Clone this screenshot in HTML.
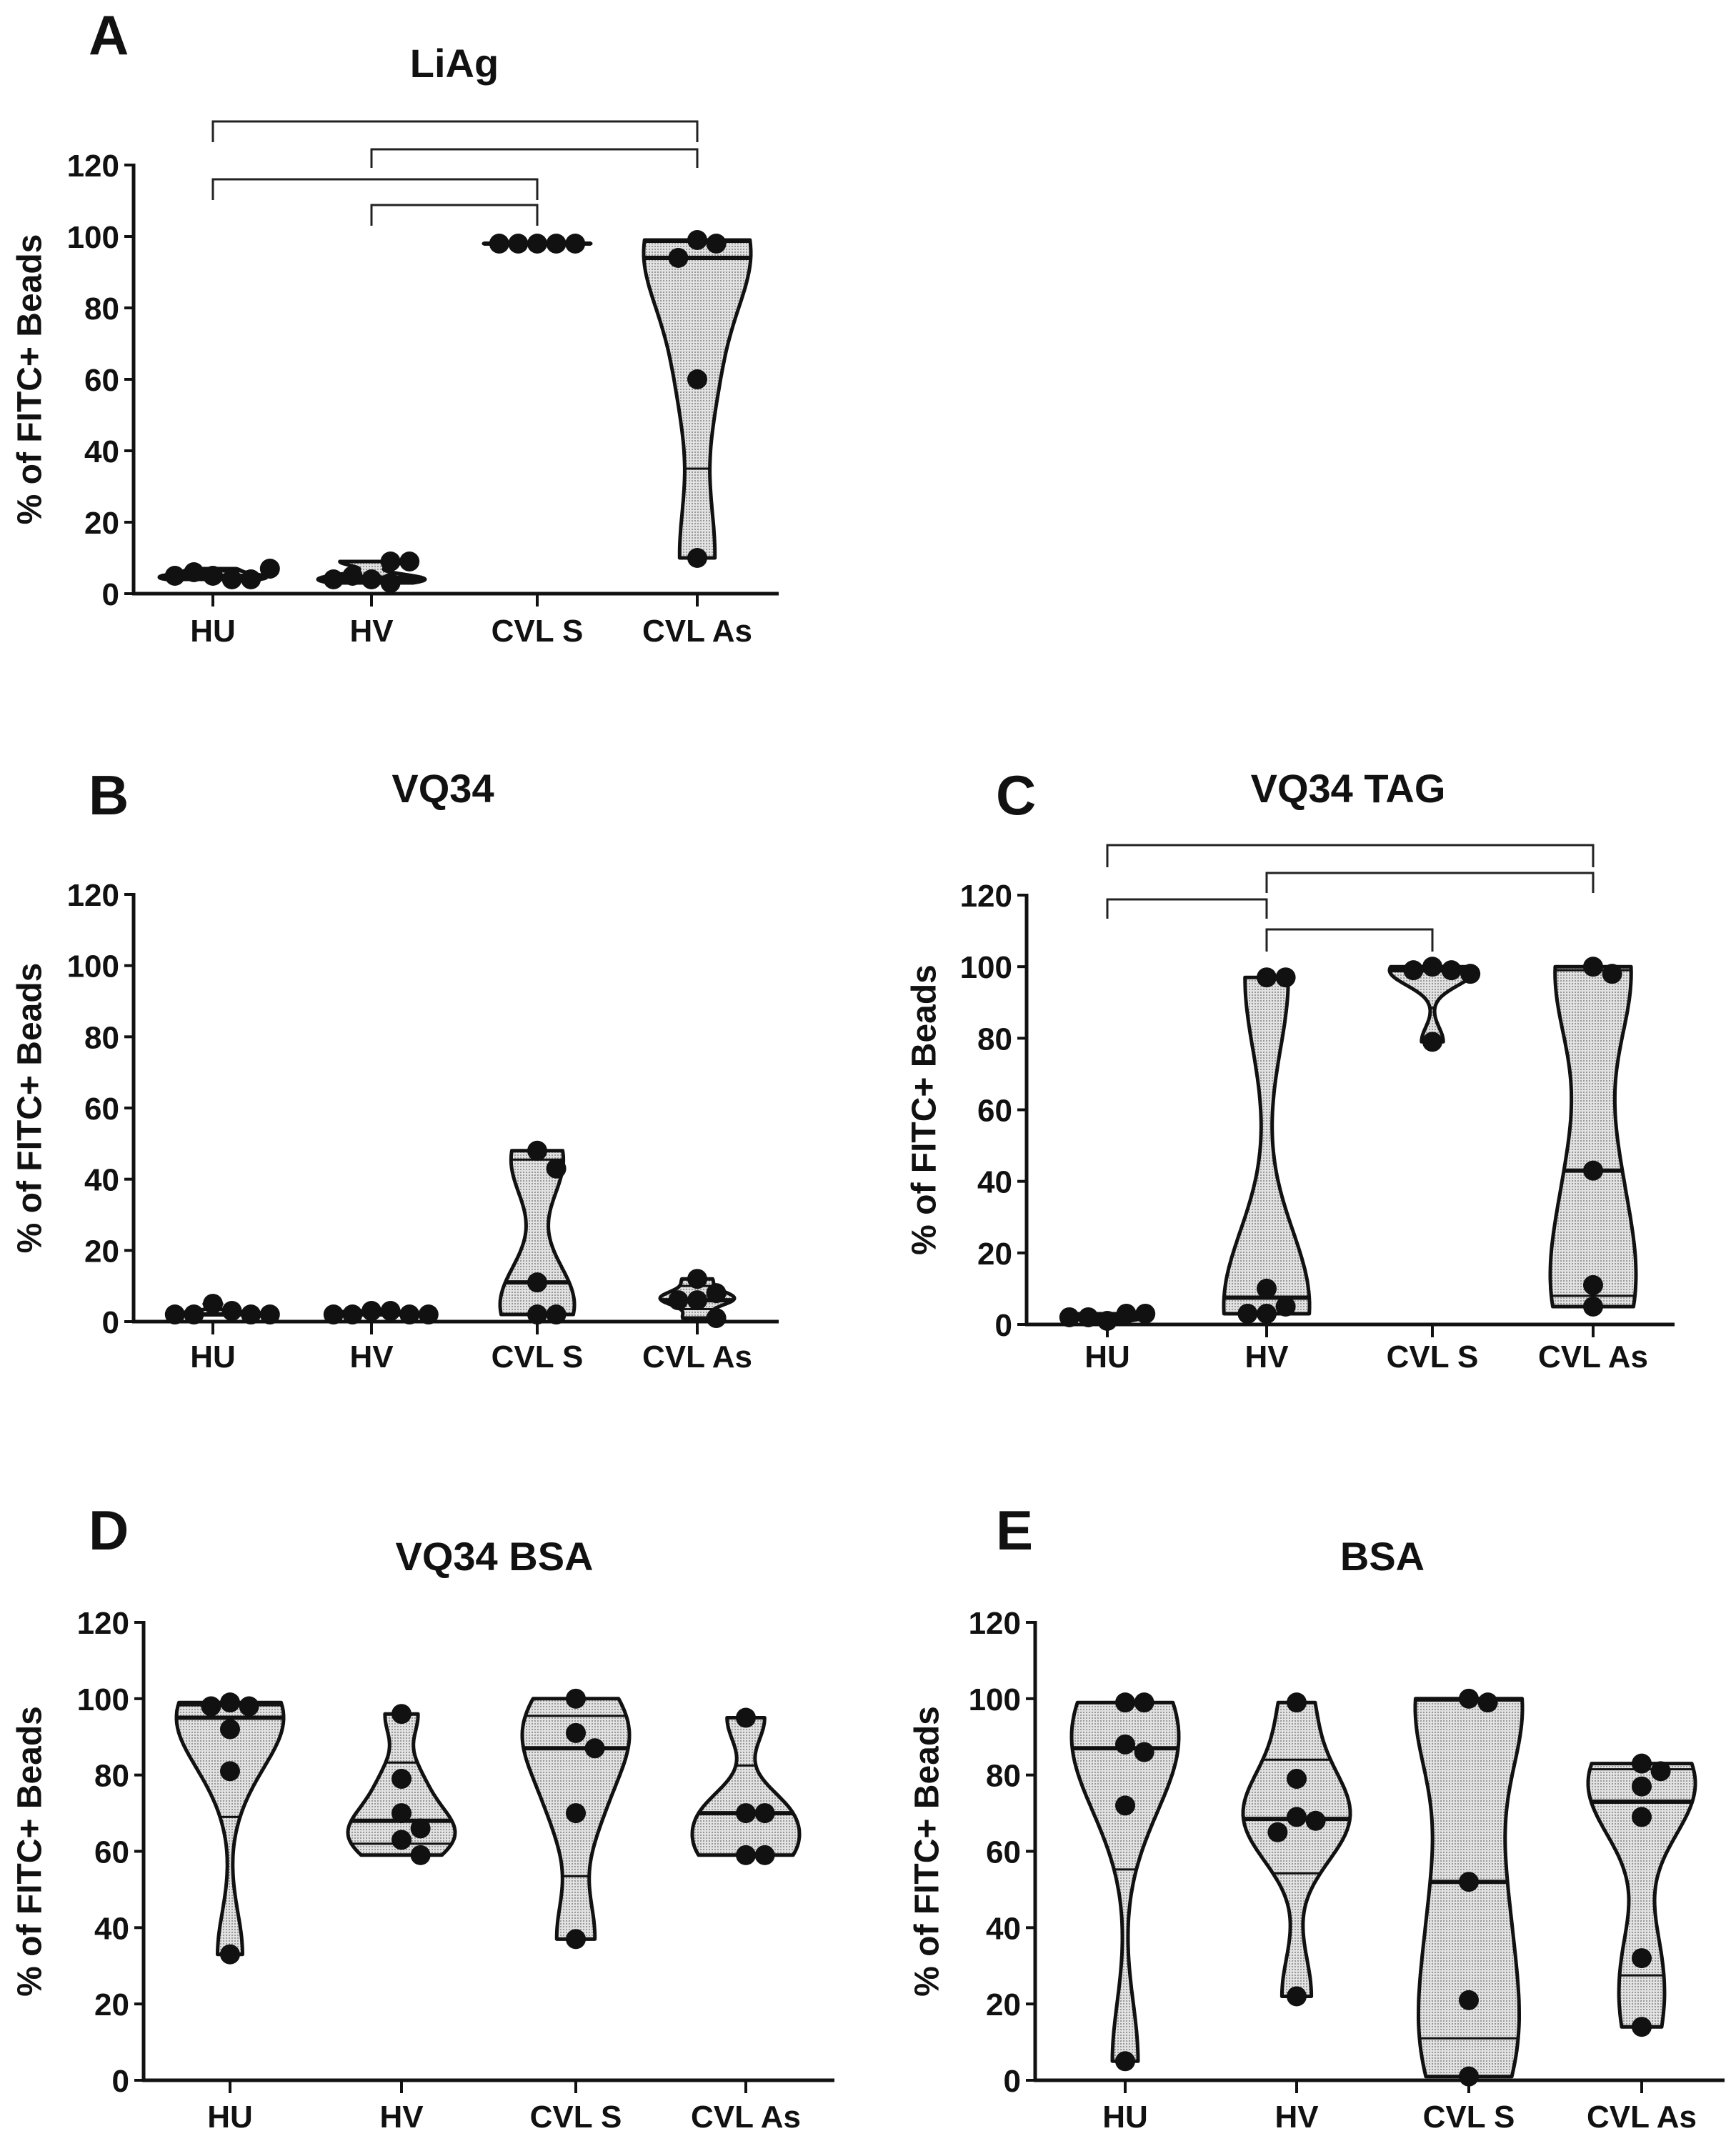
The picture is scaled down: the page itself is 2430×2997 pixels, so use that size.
<!DOCTYPE html>
<html><head><meta charset="utf-8"><style>
html,body{margin:0;padding:0;background:#fff}
svg{display:block}
text{font-family:"Liberation Sans",Arial,sans-serif;font-weight:bold;fill:#111}
</style></head><body>
<svg id="fig" width="2430" height="2997" viewBox="0 0 2430 2997" xmlns="http://www.w3.org/2000/svg">
<defs>
<pattern id="dots" width="4" height="4" patternUnits="userSpaceOnUse"><rect width="4" height="4" fill="#e2e2e2"/><rect width="2" height="2" fill="#9a9a9a"/></pattern>
</defs>
</svg>
<script>
// ---- data ----
const categories = ["HU","HV","CVL S","CVL As"];
const yTicks = [0,20,40,60,80,100,120];
const liagHU = [5,4,6,4,5,7];
const liagHV = [4,3,5,9,9,4];
const liagCVLS = [98,98,98,98,98];
const liagCVLAs = [99,98,94,60,10];
const vq34HU = [5,3,2,2,2,2];
const vq34HV = [3,3,2,2,2,2];
const vq34CVLS = [48,43,11,2,2];
const vq34CVLAs = [12,8,6,6,1];
const tagHU = [1,3,2,3,2];
const tagHV = [97,97,10,5,3,3];
const tagCVLS = [100,99,99,98,79];
const tagCVLAs = [100,98,43,11,5];
const bsaVqHU = [99,98,98,92,81,33];
const bsaVqHV = [96,79,70,66,63,59];
const bsaVqCVLS = [100,91,87,70,37];
const bsaVqCVLAs = [95,70,70,59,59];
const bsaHU = [99,99,88,86,72,5];
const bsaHV = [99,79,69,68,65,22];
const bsaCVLS = [100,99,52,21,1];
const bsaCVLAs = [83,81,77,69,32,14];
// significance brackets: [fromCategoryIndex, toCategoryIndex]
const bracketsA = [[0,3],[1,3],[0,2],[1,2]];
const bracketsC = [[0,3],[1,3],[0,1],[1,2]];

const NS="http://www.w3.org/2000/svg";
const svg=document.getElementById('fig');
function el(tag,attrs,parent){const e=document.createElementNS(NS,tag);for(const k in attrs)e.setAttribute(k,attrs[k]);(parent||svg).appendChild(e);return e;}

function quant(s,p){const n=s.length;const pos=p*(n+1)-1;if(pos<=0)return s[0];if(pos>=n-1)return s[n-1];const i=Math.floor(pos);return s[i]+(s[i+1]-s[i])*(pos-i);}

function drawPanel(P){
  const g=el('g',{});
  
  
  const yS=v=>P.y0-(v/120)*(P.y0-P.y120);
  const xS=i=>P.cx[i];
  const L=el('text',{x:P.letterX,y:P.letterY,'font-size':78},g);L.textContent=P.letter;
  
  const T=el('text',{x:P.titleX,y:P.titleY,'font-size':56,'text-anchor':'middle'},g);T.textContent=P.title;
  
  const yc=(P.y0+P.y120)/2;
  const YT=el('text',{x:P.ytX,y:yc,'font-size':48,'text-anchor':'middle',transform:`rotate(-90 ${P.ytX} ${yc})`,'dominant-baseline':'middle'},g);
  YT.textContent='% of FITC+ Beads';
  
  P.series.forEach((data,i)=>{
    const s=[...data].sort((a,b)=>a-b);const n=s.length;
    const mn=s[0],mx=s[n-1];const cx=xS(i);
    const vg=el('g',{},g);
    
    
    const mean=s.reduce((a,b)=>a+b,0)/n;
    const sd=Math.sqrt(s.reduce((a,b)=>a+(b-mean)**2,0)/Math.max(1,n-1));
    const range=mx-mn;
    let bw=Math.max(0.9*sd*Math.pow(n,-0.2)*0.7, range*0.08, 0.6);
    const steps=60;const pts=[];let maxd=0;
    for(let k=0;k<=steps;k++){const v=mn+range*k/steps;let d=0;s.forEach(x=>{d+=Math.exp(-0.5*((v-x)/bw)**2);});pts.push([v,d]);if(d>maxd)maxd=d;}
    const hw=P.maxHalf;
    const right=pts.map(([v,d])=>[cx+d/maxd*hw,yS(v)]);
    const left=pts.slice().reverse().map(([v,d])=>[cx-d/maxd*hw,yS(v)]);
    const all=right.concat(left);
    el('path',{d:'M'+all.map(p=>p[0].toFixed(1)+','+p[1].toFixed(1)).join('L')+'Z',fill:'url(#dots)',stroke:'#111','stroke-width':5,'stroke-linejoin':'round'},vg);
    const wAt=v=>{let d=0;s.forEach(x=>{d+=Math.exp(-0.5*((v-x)/bw)**2);});return d/maxd*hw;};
    [[quant(s,0.5),6],[quant(s,0.25),3],[quant(s,0.75),3]].forEach(([q,sw])=>{
      const w=wAt(q);el('line',{x1:cx-w,x2:cx+w,y1:yS(q),y2:yS(q),stroke:'#111','stroke-width':sw},vg);
    });
    const r=14;const placed=[];
    data.forEach(v=>{
      const y=yS(v);let off=0;const cand=[0];
      for(let k=1;k<12;k++){cand.push(k*2*r*0.95,-k*2*r*0.95);}
      for(const c of cand){if(placed.every(p=>Math.hypot(p[0]-c,p[1]-y)>=2*r*0.95)){off=c;break;}}
      placed.push([off,y]);
      const c=el('circle',{cx:cx+off,cy:y,r:r,fill:'#111'},vg);
      
    });
  });
  const ax=el('g',{},g);
  el('line',{x1:P.ax,x2:P.ax,y1:P.y120-2,y2:P.y0+2,stroke:'#111','stroke-width':5},ax);
  el('line',{x1:P.ax-2,x2:P.axEnd,y1:P.y0,y2:P.y0,stroke:'#111','stroke-width':5},ax);
  yTicks.forEach(t=>{
    el('line',{x1:P.ax-13,x2:P.ax,y1:yS(t),y2:yS(t),stroke:'#111','stroke-width':4},ax);
    const tx=el('text',{x:P.ax-20,y:yS(t)+16,'font-size':44,'text-anchor':'end'},ax);tx.textContent=t;
    
  });
  categories.forEach((c,i)=>{
    el('line',{x1:xS(i),x2:xS(i),y1:P.y0,y2:P.y0+18,stroke:'#111','stroke-width':4},ax);
    const tx=el('text',{x:xS(i),y:P.catY,'font-size':44,'text-anchor':'middle'},ax);tx.textContent=c;
    
  });
  (P.brackets||[]).forEach((b,k)=>{
    const [top,bot]=P.bracketY[k];
    const bg=el('path',{d:`M${xS(b[0])},${bot}V${top}H${xS(b[1])}V${bot}`,fill:'none',stroke:'#222','stroke-width':3},g);
    
  });
}

drawPanel({name:'panel-a-liag',letter:'A',title:'LiAg',letterX:124,letterY:76,titleX:636,titleY:108,ytX:45,
  ax:187,axEnd:1090,y0:831,y120:231,cx:[298,520,752,976],catY:898,maxHalf:75,
  series:[liagHU,liagHV,liagCVLS,liagCVLAs],brackets:bracketsA,bracketY:[[170,199],[209,235],[251,280],[287,316]]});
drawPanel({name:'panel-b-vq34',letter:'B',title:'VQ34',letterX:124,letterY:1140,titleX:620,titleY:1123,ytX:45,
  ax:187,axEnd:1090,y0:1850,y120:1252,cx:[298,520,752,976],catY:1914,maxHalf:52,
  series:[vq34HU,vq34HV,vq34CVLS,vq34CVLAs]});
drawPanel({name:'panel-c-vq34-tag',letter:'C',title:'VQ34 TAG',letterX:1394,letterY:1140,titleX:1887,titleY:1123,ytX:1297,
  ax:1437,axEnd:2344,y0:1854,y120:1253,cx:[1550,1773,2005,2230],catY:1914,maxHalf:60,
  series:[tagHU,tagHV,tagCVLS,tagCVLAs],brackets:bracketsC,bracketY:[[1183,1214],[1222,1250],[1259,1286],[1301,1332]]});
drawPanel({name:'panel-d-vq34-bsa',letter:'D',title:'VQ34 BSA',letterX:124,letterY:2169,titleX:692,titleY:2198,ytX:45,
  ax:201,axEnd:1168,y0:2912,y120:2271,cx:[322,562,806,1044],catY:2978,maxHalf:75,
  series:[bsaVqHU,bsaVqHV,bsaVqCVLS,bsaVqCVLAs]});
drawPanel({name:'panel-e-bsa',letter:'E',title:'BSA',letterX:1394,letterY:2169,titleX:1935,titleY:2198,ytX:1301,
  ax:1449,axEnd:2414,y0:2912,y120:2271,cx:[1575,1815,2056,2298],catY:2978,maxHalf:75,
  series:[bsaHU,bsaHV,bsaCVLS,bsaCVLAs]});
</script>
</body></html>
